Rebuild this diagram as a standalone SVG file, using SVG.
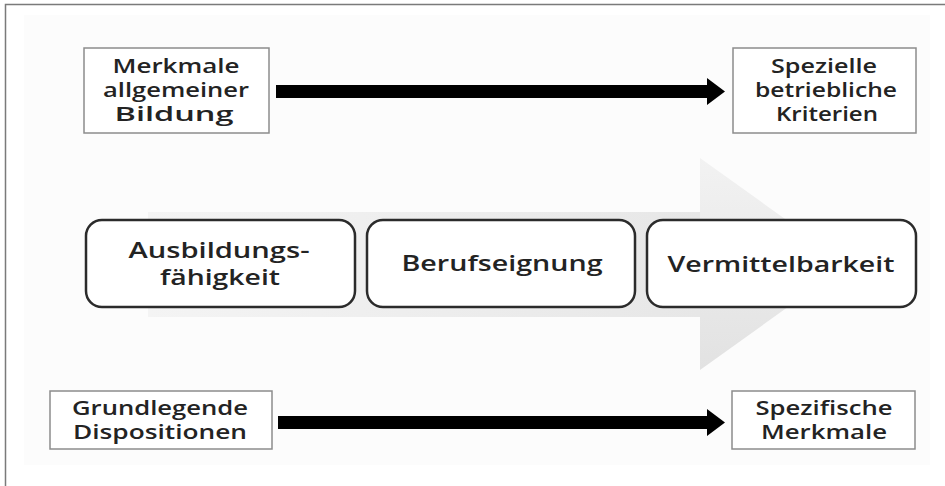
<svg xmlns="http://www.w3.org/2000/svg" width="945" height="486" viewBox="0 0 945 486">
  <defs>
    <style>
      .frame { fill: none; stroke: #7a7a7a; stroke-width: 1.5; }
      .box { fill: #ffffff; stroke: #8c8c8c; stroke-width: 1.5; }
      .stage { fill: #ffffff; stroke: #2b2b2b; stroke-width: 2.5; }
      .label { font-family: "Open Sans", "Liberation Sans", sans-serif; font-size: 20px; font-weight: 600; fill: #232323; text-anchor: middle; }
      .stage-label { font-family: "Open Sans", "Liberation Sans", sans-serif; font-size: 21px; font-weight: 600; fill: #232323; text-anchor: middle; }
      .flow { fill: #000000; }
    </style>
    <linearGradient id="shaftFill" x1="148" y1="0" x2="700" y2="0" gradientUnits="userSpaceOnUse">
      <stop offset="0" stop-color="#f4f4f4"/>
      <stop offset="1" stop-color="#e7e7e7"/>
    </linearGradient>
    <linearGradient id="headFill" x1="0" y1="158" x2="0" y2="370" gradientUnits="userSpaceOnUse">
      <stop offset="0" stop-color="#f2f2f2"/>
      <stop offset="1" stop-color="#e2e2e2"/>
    </linearGradient>
  </defs>

  <!-- page background and frame -->
  <rect x="0" y="0" width="945" height="486" fill="#ffffff"/>
  <rect x="24" y="15" width="906" height="450" fill="#fcfcfc"/>
  <path class="frame" d="M5.5 486 V4.5 H945"/>

  <!-- broad progression arrow behind the stages -->
  <g id="backdrop">
    <rect x="148" y="212" width="553" height="105" fill="url(#shaftFill)"/>
    <polygon points="700,158 848,264 700,370" fill="url(#headFill)"/>
  </g>

  <!-- connectors -->
  <g id="connectors">
    <polygon class="flow" points="276,85 707,85 707,78 725,91.5 707,105 707,98 276,98"/>
    <polygon class="flow" points="278,416 707,416 707,409 725,422.5 707,436 707,429 278,429"/>
  </g>

  <!-- upper row -->
  <g id="merkmale-bildung">
    <rect class="box" x="84" y="48" width="185" height="85"/>
    <text class="label" x="176" y="73" textLength="127" lengthAdjust="spacingAndGlyphs">Merkmale</text>
    <text class="label" x="176" y="97" textLength="146" lengthAdjust="spacingAndGlyphs">allgemeiner</text>
    <text class="label" x="174" y="121" textLength="119" lengthAdjust="spacingAndGlyphs">Bildung</text>
  </g>
  <g id="betriebliche-kriterien">
    <rect class="box" x="733" y="48" width="183" height="85"/>
    <text class="label" x="824" y="73" textLength="106" lengthAdjust="spacingAndGlyphs">Spezielle</text>
    <text class="label" x="826" y="97" textLength="142" lengthAdjust="spacingAndGlyphs">betriebliche</text>
    <text class="label" x="827" y="121" textLength="102" lengthAdjust="spacingAndGlyphs">Kriterien</text>
  </g>

  <!-- stages -->
  <g id="ausbildungsfaehigkeit">
    <rect class="stage" x="86" y="220" width="269" height="87" rx="16" ry="16"/>
    <text class="stage-label" x="219" y="258" textLength="181" lengthAdjust="spacingAndGlyphs">Ausbildungs-</text>
    <text class="stage-label" x="220" y="285" textLength="120" lengthAdjust="spacingAndGlyphs">fähigkeit</text>
  </g>
  <g id="berufseignung">
    <rect class="stage" x="367" y="220" width="268" height="87" rx="16" ry="16"/>
    <text class="stage-label" x="502" y="271" textLength="201" lengthAdjust="spacingAndGlyphs">Berufseignung</text>
  </g>
  <g id="vermittelbarkeit">
    <rect class="stage" x="647" y="220" width="269" height="87" rx="16" ry="16"/>
    <text class="stage-label" x="781" y="272" textLength="227" lengthAdjust="spacingAndGlyphs">Vermittelbarkeit</text>
  </g>

  <!-- lower row -->
  <g id="grundlegende-dispositionen">
    <rect class="box" x="50" y="391" width="222" height="58"/>
    <text class="label" x="160" y="415" textLength="176" lengthAdjust="spacingAndGlyphs">Grundlegende</text>
    <text class="label" x="160" y="439" textLength="174" lengthAdjust="spacingAndGlyphs">Dispositionen</text>
  </g>
  <g id="spezifische-merkmale">
    <rect class="box" x="732" y="391" width="183" height="58"/>
    <text class="label" x="824" y="415" textLength="137" lengthAdjust="spacingAndGlyphs">Spezifische</text>
    <text class="label" x="824" y="439" textLength="126" lengthAdjust="spacingAndGlyphs">Merkmale</text>
  </g>
</svg>
